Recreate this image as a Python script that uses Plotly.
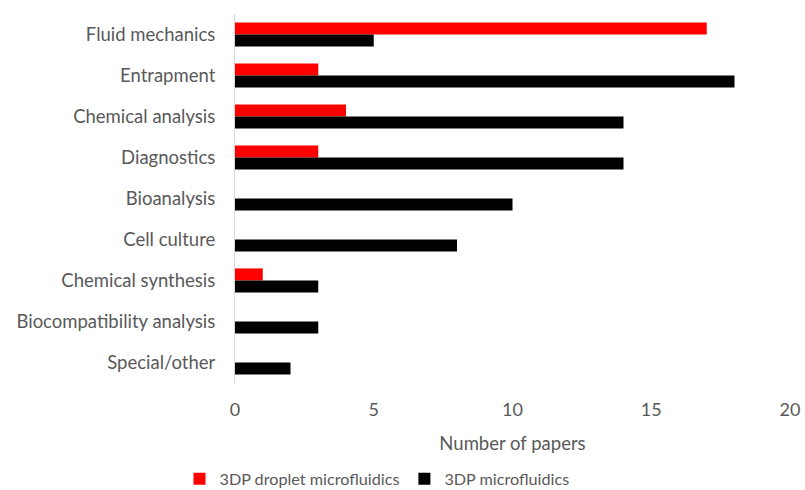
import plotly.graph_objects as go

categories = [
    "Fluid mechanics", "Entrapment", "Chemical analysis", "Diagnostics",
    "Bioanalysis", "Cell culture", "Chemical synthesis",
    "Biocompatibility analysis", "Special/other",
]
droplet = [17, 3, 4, 3, 0, 0, 1, 0, 0]
general = [5, 18, 14, 14, 10, 8, 3, 3, 2]
x_ticks = [0, 5, 10, 15, 20]

FONT = "Lato, Calibri, 'Open Sans', sans-serif"
GREY = "#595959"

fig = go.Figure()
fig.add_trace(go.Bar(
    y=categories, x=droplet, orientation="h",
    name="3DP droplet microfluidics", marker=dict(color="#FF0000", line_width=0),
))
fig.add_trace(go.Bar(
    y=categories, x=general, orientation="h",
    name="3DP microfluidics", marker=dict(color="#000000", line_width=0),
))

fig.update_layout(
    width=805, height=490,
    margin=dict(l=235, r=15, t=14, b=107, autoexpand=False),
    paper_bgcolor="white", plot_bgcolor="white",
    barmode="group", bargap=0.41, bargroupgap=0,
    font=dict(family=FONT, size=16, color=GREY),
    showlegend=True,
    legend=dict(
        orientation="h", x=-0.1, xanchor="left", y=-0.213, yanchor="top",
        font=dict(size=16.2, color=GREY), itemwidth=30, traceorder="normal",
    ),
    xaxis=dict(
        range=[0, 20], tickvals=x_ticks, showgrid=False, zeroline=False,
        showline=False, ticks="outside", ticklen=10, tickcolor="rgba(0,0,0,0)",
        tickfont=dict(size=18, color=GREY), automargin=False,
        title=dict(text="Number of papers", font=dict(size=18.5, color=GREY), standoff=18),
    ),
    yaxis=dict(
        autorange="reversed", showgrid=False, showline=True, linecolor="#D9D9D9",
        linewidth=1, ticks="outside", ticklen=15, tickcolor="rgba(0,0,0,0)",
        tickfont=dict(size=18.5, color=GREY), automargin=False,
    ),
)

fig.write_html("out.html")
